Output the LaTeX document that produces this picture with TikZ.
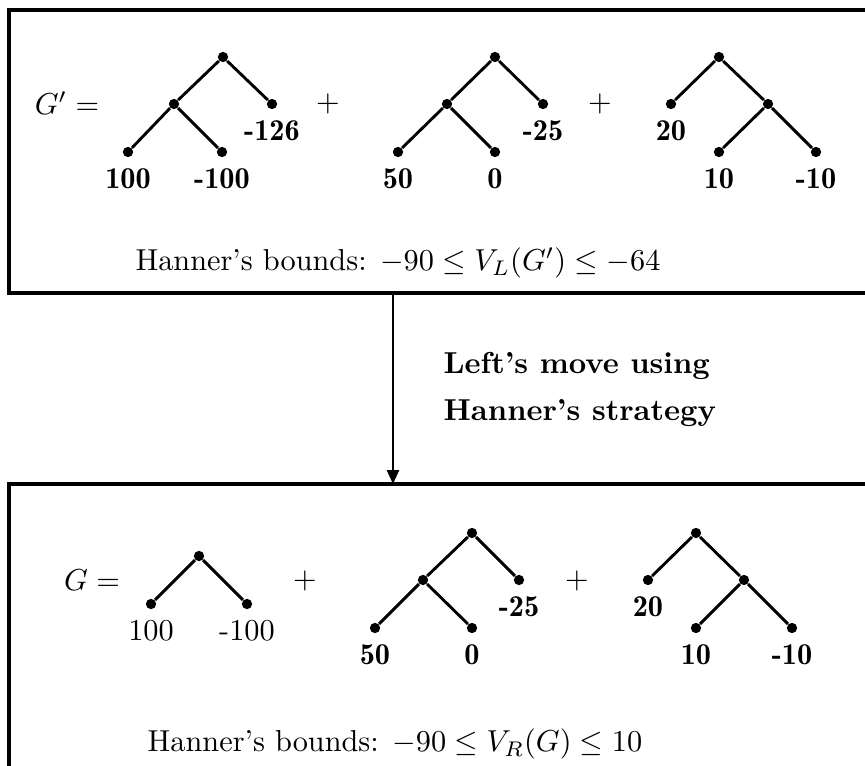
\documentclass[tikz,border=0pt]{standalone}
\usepackage{amsmath,amssymb}
\usepackage{tikz}
\usetikzlibrary{arrows.meta,positioning}

\begin{document}
\begin{tikzpicture}[x=0.33pt, y=-0.33pt,
  dot/.style={circle, fill=black, inner sep=0pt, minimum size=3.4pt},
  edge/.style={line width=0.95pt},
  val/.style={font=\fontseries{b}\selectfont, label distance=0pt},
  frame/.style={line width=1pt}]
  \useasboundingbox (0,0) rectangle (865,766);
  \clip (0,0) rectangle (865,766);

  % upper box: G'
  \draw[frame] (9,10) rectangle (900,293);
  \node (gp) at (67,103) {$G' =$};

  \node[dot] (t1r) at (223,57) {};
  \node[dot] (t1m) at (174,104) {};
  \node[dot, label={[val]below:-126}] (t1c) at (272,104) {};
  \node[dot, label={[val]below:100}] (t1a) at (128,152) {};
  \node[dot, label={[val]below:-100}] (t1b) at (222,152) {};
  \draw[edge] (t1a) -- (t1m) -- (t1r) -- (t1c);
  \draw[edge] (t1m) -- (t1b);

  \node (p1) at (328,104) {$+$};

  \node[dot] (t2r) at (495,57) {};
  \node[dot] (t2m) at (447,104) {};
  \node[dot, label={[val]below:-25}] (t2c) at (543,104) {};
  \node[dot, label={[val]below:50}] (t2a) at (398,152) {};
  \node[dot, label={[val]below:0}] (t2b) at (495,152) {};
  \draw[edge] (t2a) -- (t2m) -- (t2r) -- (t2c);
  \draw[edge] (t2m) -- (t2b);

  \node (p2) at (600,104) {$+$};

  \node[dot] (t3r) at (719,57) {};
  \node[dot, label={[val]below:20}] (t3c) at (671,104) {};
  \node[dot] (t3m) at (768,104) {};
  \node[dot, label={[val]below:10}] (t3a) at (719,152) {};
  \node[dot, label={[val]below:-10}] (t3b) at (816,152) {};
  \draw[edge] (t3c) -- (t3r) -- (t3m) -- (t3b);
  \draw[edge] (t3m) -- (t3a);

  \node (hl) at (398,263) {Hanner's bounds: $-90 \le V_L(G') \le -64$};

  % the move
  \coordinate (mvfrom) at (393,293);
  \coordinate (mvto) at (393,484);
  \draw[line width=0.7pt, -{Triangle[length=4.6pt, width=4pt]}] (mvfrom) -- (mvto);
  \node[font=\bfseries, anchor=west] (mv1) at (433,366) {Left's move using};
  \node[font=\bfseries, anchor=west] (mv2) at (433,413) {Hanner's strategy};

  % lower box: G
  \draw[frame] (9,484) rectangle (900,800);
  \node (g) at (92,580) {$G =$};

  \node[dot] (u1r) at (199,556) {};
  \node[dot, label={below:100}] (u1a) at (151,604) {};
  \node[dot, label={below:-100}] (u1b) at (247,604) {};
  \draw[edge] (u1a) -- (u1r) -- (u1b);

  \node (q1) at (305,581) {$+$};

  \node[dot] (u2r) at (472,533) {};
  \node[dot] (u2m) at (423,580) {};
  \node[dot, label={[val]below:-25}] (u2c) at (519,580) {};
  \node[dot, label={[val]below:50}] (u2a) at (375,628) {};
  \node[dot, label={[val]below:0}] (u2b) at (472,628) {};
  \draw[edge] (u2a) -- (u2m) -- (u2r) -- (u2c);
  \draw[edge] (u2m) -- (u2b);

  \node (q2) at (577,581) {$+$};

  \node[dot] (u3r) at (696,533) {};
  \node[dot, label={[val]below:20}] (u3c) at (648,580) {};
  \node[dot] (u3m) at (744,580) {};
  \node[dot, label={[val]below:10}] (u3a) at (696,628) {};
  \node[dot, label={[val]below:-10}] (u3b) at (792,628) {};
  \draw[edge] (u3c) -- (u3r) -- (u3m) -- (u3b);
  \draw[edge] (u3m) -- (u3a);

  \node (hr) at (395,744) {Hanner's bounds: $-90 \le V_R(G) \le 10$};
\end{tikzpicture}
\end{document}
